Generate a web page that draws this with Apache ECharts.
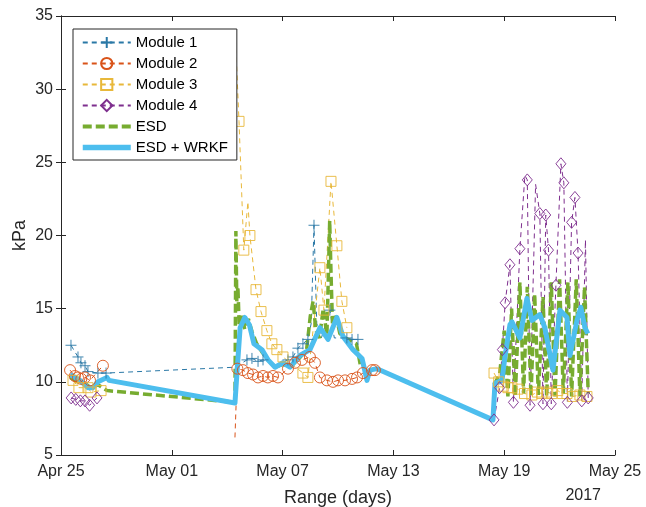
<!DOCTYPE html>
<html><head><meta charset="utf-8">
<script src="https://cdn.jsdelivr.net/npm/echarts@6/dist/echarts.min.js"></script>
<style>html,body{margin:0;padding:0;background:#fff}#c{width:646px;height:507px}</style>
</head><body><div id="c"></div><script>
// x values are days since Apr 25 2017
const xTickLabels = ['Apr 25','May 01','May 07','May 13','May 19','May 25'];
const yearLabel = '2017';
const seriesNames = ['Module 1','Module 2','Module 3','Module 4','ESD','ESD + WRKF'];

const m1Days = [0.54,0.92,1.08,1.3,1.46,2.0,2.44, 9.45,10.07,10.34,10.67,10.94,11.6,12.29,12.56,12.83,13.10,13.37,13.55,13.70,13.85,14.1,14.56,14.8,15.48,15.76,16.08];
const m1Vals = [12.5,11.7,11.3,11.1,10.7,10.6,10.6, 11.0,11.5,11.6,11.4,11.5,11.1,11.5,11.7,12.3,12.6,12.9,14.0,20.7,14.0,13.0,14.9,13.0,13.0,12.9,12.9];
const m1NoMarker = [7,12,18,20,21,23];

const m2Days = [0.49,0.75,0.92,1.1,1.3,1.57,2.27, 5, 9.42,9.55,9.85,10.12,10.4,10.67,10.94,11.2,11.48,11.75,12.29,12.67,13.05,13.48,13.75,14.02,14.4,14.73,15.0,15.38,15.76,16.03,16.35,16.84,17.0];
const m2Vals = [10.8,10.4,10.3,10.2,10.3,10.1,11.1, null, 6.2,10.9,10.8,10.6,10.5,10.3,10.4,10.3,10.4,10.3,10.9,11.3,11.5,11.7,11.3,10.3,10.1,10.0,10.1,10.1,10.2,10.3,10.6,10.8,10.8];
const m2NoMarker = [8];

const m3Days = [0.65,0.97,1.46,1.62,2.17, 5, 9.45,9.64,9.9,10.12,10.23,10.56,10.83,11.15,11.42,11.69,12.02,13.10,13.37,14.02,14.24,14.62,14.94,15.21,15.48, 20, 23.45,23.7,23.95,24.2,24.42,24.74,25.1,25.5,25.8,26.04,26.3,26.58,26.9,27.15,27.4,27.72,28.1,28.48];
const m3Vals = [10.1,9.6,9.6,9.3,9.4, null, 33.4,27.8,19.0,22.3,20.0,16.3,14.8,13.5,12.6,12.2,11.7,10.6,10.3,17.8,14.9,23.7,19.3,15.5,13.7, null, 10.6,10.0,9.7,9.6,9.6,9.5,9.2,9.1,9.3,9.2,9.3,9.2,9.4,9.2,9.2,9.0,9.1,9.0];
const m3NoMarker = [6,9];

const m4Days = [0.55,0.8,1.05,1.3,1.55,1.95, 10, 23.45,23.75,23.9,24.05,24.31,24.5,24.85,25.12,25.25,25.4,25.7,25.93,26.1,26.25,26.4,26.55,26.8,27.07,27.23,27.42,27.65,27.83,28.0,28.2,28.4,28.55];
const m4Vals = [8.9,8.8,8.7,8.7,8.4,8.9, null, 7.4,9.6,12.2,15.4,18.0,8.6,19.1,24.1,23.8,8.4,23.5,21.5,8.5,21.4,19.0,8.5,16.6,24.9,23.6,8.6,20.9,22.6,18.8,8.7,19.7,8.9];
const m4NoMarker = [14,17,31];

const esdDays = [0.5,0.9,1.3,1.6,2.0,2.5,9.42, 9.47,9.52,9.58,9.65,9.8,9.95,10.15,10.35,10.6,10.9,11.2,11.6,12.0,12.4,12.9,13.3,13.5,13.65,13.8,14.0,14.2,14.4,14.55,14.62,14.7,14.9,15.1,15.4,15.7,16.0,16.2, 20, 23.45,23.75,24.0,24.2,24.4,24.6,24.85,25.05,25.25,25.45,25.65,25.85,26.1,26.3,26.55,26.75,27.0,27.2,27.45,27.65,27.9,28.1,28.35,28.55];
const esdVals = [10.3,10.0,9.9,9.6,9.8,9.4,8.6, 20.3,15.5,16.5,13.8,14.5,13.6,14.3,13.4,12.6,12.0,11.5,11.0,11.2,11.0,11.6,12.2,14.5,15.5,13.5,13.0,15.0,13.2,21.0,17.5,14.0,14.5,13.3,13.0,12.8,12.6,11.2, null, 9.8,10.5,13.5,9.0,15.0,9.0,16.8,9.2,16.5,9.0,16.0,9.1,15.8,9.0,16.8,9.0,17.0,9.2,16.8,9.0,17.0,9.0,16.5,9.2];

const wrkfDays = [0.49,1.03,1.46,1.73,2.0,2.49,2.6,9.42, 9.55,9.7,9.95,10.2,10.45,10.88,11.21,11.59,12.02,12.4,12.94,13.48,14.02,14.46,14.94,15.27,15.81,16.3,16.57,16.73,17.11,23.39, 23.5,23.88,24.04,24.31,24.42,24.85,25.23,25.5,25.93,26.2,26.64,27.02,27.4,27.56,27.94,28.15,28.37,28.53];
const wrkfVals = [10.5,10.1,9.6,9.6,10.0,10.3,10.1,8.55, 11.0,13.7,14.4,13.9,12.6,12.2,11.5,11.0,11.3,11.0,11.8,12.2,13.7,12.9,14.4,13.1,12.2,11.6,10.1,10.8,10.9,7.4, 9.9,10.1,11.7,13.9,14.1,13.0,15.7,14.2,14.6,13.7,10.8,14.9,14.4,11.8,14.2,15.1,13.7,13.3];

function build(days, vals, noMarker) {
  noMarker = noMarker || [];
  return days.map((d, i) => {
    if (vals[i] === null) return [d, '-'];
    if (noMarker.indexOf(i) >= 0) return { value: [d, vals[i]], symbol: 'none' };
    return [d, vals[i]];
  });
}

const C = { m1:'#2a78a6', m2:'#D95319', m3:'#E8B83A', m4:'#7E2F8E', esd:'#77AC30', wrkf:'#4DBEEE' };
const PLUS = 'path://M5 0L5 10M0 5L10 5';
const FONT = 'Liberation Sans';

function moduleSeries(name, color, symbol, size, data) {
  return {
    name, type: 'line', data, symbol, symbolSize: size,
    connectNulls: false, animation: false,
    lineStyle: { color, width: 1, type: [5, 4] },
    itemStyle: { color: 'rgba(0,0,0,0)', borderColor: color, borderWidth: 0.9 },
    emphasis: { disabled: true }
  };
}

const axisCol = '#262626';
const chart = echarts.init(document.getElementById('c'));
chart.setOption({
  animation: false,
  textStyle: { fontFamily: FONT },
  grid: { left: 61, right: 31, top: 16, bottom: 52, outerBoundsMode: 'none', containLabel: false },
  legend: {
    left: 73, top: 29, orient: 'vertical',
    padding: [6, 9, 5, 7], itemGap: 6, itemWidth: 48, itemHeight: 14,
    backgroundColor: '#fff', borderColor: axisCol, borderWidth: 1, borderRadius: 0,
    textStyle: { fontSize: 15, color: '#000', fontFamily: FONT },
    data: [
      'Module 1', 'Module 2', 'Module 3', 'Module 4',
      { name: 'ESD', itemStyle: { opacity: 0 }, lineStyle: { width: 4, type: [9, 4] } },
      { name: 'ESD + WRKF', itemStyle: { opacity: 0 }, lineStyle: { width: 5.5 } }
    ]
  },
  xAxis: [{
    type: 'value', min: 0, max: 30, interval: 6,
    name: 'Range (days)', nameLocation: 'middle', nameGap: 34,
    nameTextStyle: { fontSize: 18, color: axisCol, fontFamily: FONT },
    axisLine: { lineStyle: { color: axisCol } },
    axisTick: { inside: true, length: 5, lineStyle: { color: axisCol } },
    axisLabel: { fontSize: 16, color: axisCol, margin: 9, fontFamily: FONT, formatter: v => xTickLabels[Math.round(v / 6)] },
    splitLine: { show: false }
  }, {
    type: 'value', position: 'top', min: 0, max: 30, interval: 6,
    axisLine: { lineStyle: { color: axisCol } },
    axisTick: { inside: true, length: 5, lineStyle: { color: axisCol } },
    axisLabel: { show: false }, splitLine: { show: false }
  }],
  yAxis: [{
    type: 'value', min: 5, max: 35, interval: 5,
    name: 'kPa', nameLocation: 'middle', nameGap: 32, nameMoveOverlap: false,
    nameTextStyle: { fontSize: 18, color: axisCol, fontFamily: FONT },
    axisLine: { show: true, lineStyle: { color: axisCol } },
    axisTick: { show: true, inside: true, length: 5, lineStyle: { color: axisCol } },
    axisLabel: { fontSize: 16, color: axisCol, margin: 8, fontFamily: FONT },
    splitLine: { show: false }
  }, {
    type: 'value', position: 'right', min: 5, max: 35, interval: 5,
    axisLine: { show: true, lineStyle: { color: axisCol } },
    axisTick: { show: true, inside: true, length: 5, lineStyle: { color: axisCol } },
    axisLabel: { show: false }, splitLine: { show: false }
  }],
  graphic: [{
    type: 'text', right: 45, top: 488,
    style: { text: yearLabel, fontSize: 16, fill: axisCol, fontFamily: FONT }
  }],
  series: [
    moduleSeries('Module 1', C.m1, PLUS, 11, build(m1Days, m1Vals, m1NoMarker)),
    moduleSeries('Module 2', C.m2, 'circle', 11, build(m2Days, m2Vals, m2NoMarker)),
    moduleSeries('Module 3', C.m3, 'rect', 10, build(m3Days, m3Vals, m3NoMarker)),
    moduleSeries('Module 4', C.m4, 'diamond', [10, 12], build(m4Days, m4Vals, m4NoMarker)),
    {
      name: 'ESD', type: 'line', symbol: 'none', connectNulls: false,
      data: build(esdDays, esdVals),
      lineStyle: { color: C.esd, width: 3.5, type: [9, 4] },
      itemStyle: { color: C.esd }, emphasis: { disabled: true }
    },
    {
      name: 'ESD + WRKF', type: 'line', symbol: 'none',
      data: build(wrkfDays, wrkfVals),
      lineStyle: { color: C.wrkf, width: 5, join: 'round' },
      itemStyle: { color: C.wrkf }, emphasis: { disabled: true }
    }
  ]
});
</script></body></html>
